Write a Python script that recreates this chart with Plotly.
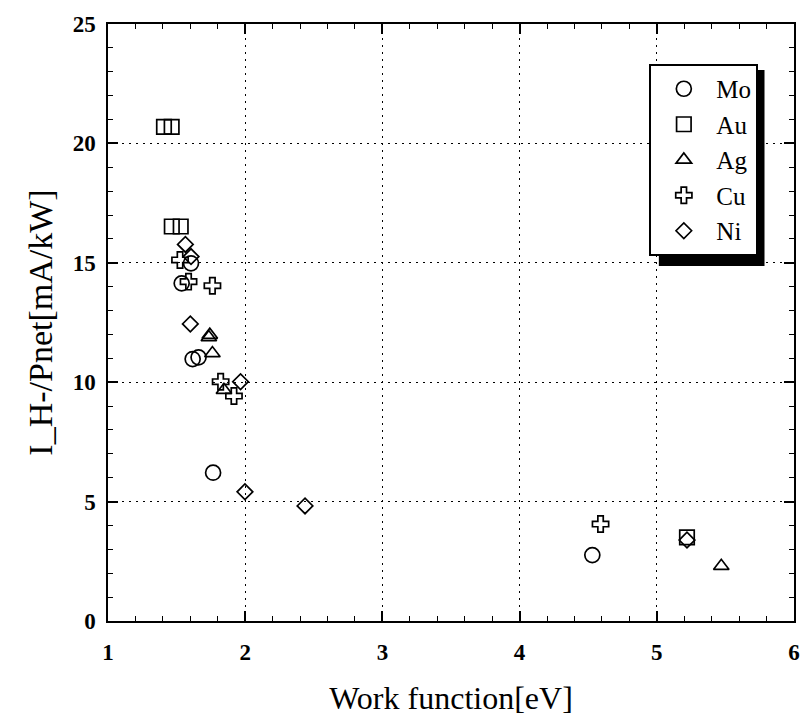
import plotly.graph_objects as go

# Data (work function [eV], I_H-/Pnet [mA/kW])
mo_x = [1.537, 1.605, 1.617, 1.660, 1.766, 4.53]
mo_y = [14.14, 14.98, 10.97, 11.04, 6.21, 2.76]

au_x = [1.408, 1.464, 1.465, 1.530, 5.22]
au_y = [20.69, 20.69, 16.52, 16.52, 3.50]

ag_x = [1.735, 1.742, 1.761, 1.845, 5.47]
ag_y = [11.88, 11.98, 11.21, 9.67, 2.30]

cu_x = [1.525, 1.587, 1.761, 1.821, 1.918, 4.59]
cu_y = [15.12, 14.21, 14.04, 10.02, 9.42, 4.06]

ni_x = [1.564, 1.605, 1.600, 1.966, 1.998, 2.436, 5.22]
ni_y = [15.77, 15.26, 12.44, 10.02, 5.41, 4.82, 3.39]

series = [
    ("Mo", mo_x, mo_y, "circle-open", 15),
    ("Au", au_x, au_y, "square-open", 14.5),
    ("Ag", ag_x, ag_y, "triangle-up-open", 13.5),
    ("Cu", cu_x, cu_y, "cross-open", 13.5),
    ("Ni", ni_x, ni_y, "diamond-open", 12),
]

x_ticks = [1, 2, 3, 4, 5, 6]
y_ticks = [0, 5, 10, 15, 20, 25]

fig = go.Figure()
for name, xs, ys, sym, sz in series:
    fig.add_trace(go.Scatter(
        x=xs, y=ys, mode="markers", name=name,
        marker=dict(symbol=sym, size=sz, color="black",
                    line=dict(color="black", width=1.7)),
    ))

serif = "Liberation Serif"

axis_common = dict(
    showline=True, linecolor="black", linewidth=1.5, mirror="allticks",
    ticks="inside", ticklen=10, tickwidth=1.5, tickcolor="black",
    showgrid=True, gridcolor="black", gridwidth=1, griddash="2px,5px",
    zeroline=False,
    tickfont=dict(family=serif, size=23, color="black", weight="bold"),
)

fig.update_xaxes(
    range=[1, 6], tickvals=x_ticks, ticktext=[str(v) for v in x_ticks],
    minor=dict(ticks="inside", ticklen=5, tickwidth=1.2, tickcolor="black", dtick=0.2, showgrid=False),
    ticklabelstandoff=10,
    title=dict(text="Work function[eV]", font=dict(family=serif, size=32, color="black"), standoff=22),
    **axis_common,
)
fig.update_yaxes(
    range=[0, 25], tickvals=y_ticks, ticktext=[str(v) for v in y_ticks],
    minor=dict(ticks="inside", ticklen=5, tickwidth=1.2, tickcolor="black", dtick=1, showgrid=False),
    ticklabelstandoff=6,
    title=dict(text="I_H-/Pnet[mA/kW]", font=dict(family=serif, size=34, color="black"), standoff=10),
    **axis_common,
)

# legend drop shadow (paper coordinates), offset down-right from the legend box
fig.add_shape(type="rect", xref="paper", yref="paper",
              x0=0.803, x1=0.957, y0=0.5946, y1=0.923,
              fillcolor="black", line=dict(width=0), layer="above")

fig.update_layout(
    width=812, height=725,
    margin=dict(l=108, r=13, t=24, b=104),
    paper_bgcolor="white", plot_bgcolor="white",
    showlegend=True,
    legend=dict(
        x=0.948, y=0.933, xanchor="right", yanchor="top",
        bgcolor="white", bordercolor="black", borderwidth=2,
        font=dict(family=serif, size=25, color="black"),
        itemsizing="trace", itemwidth=55,
    ),
)

fig.write_html("out.html")
